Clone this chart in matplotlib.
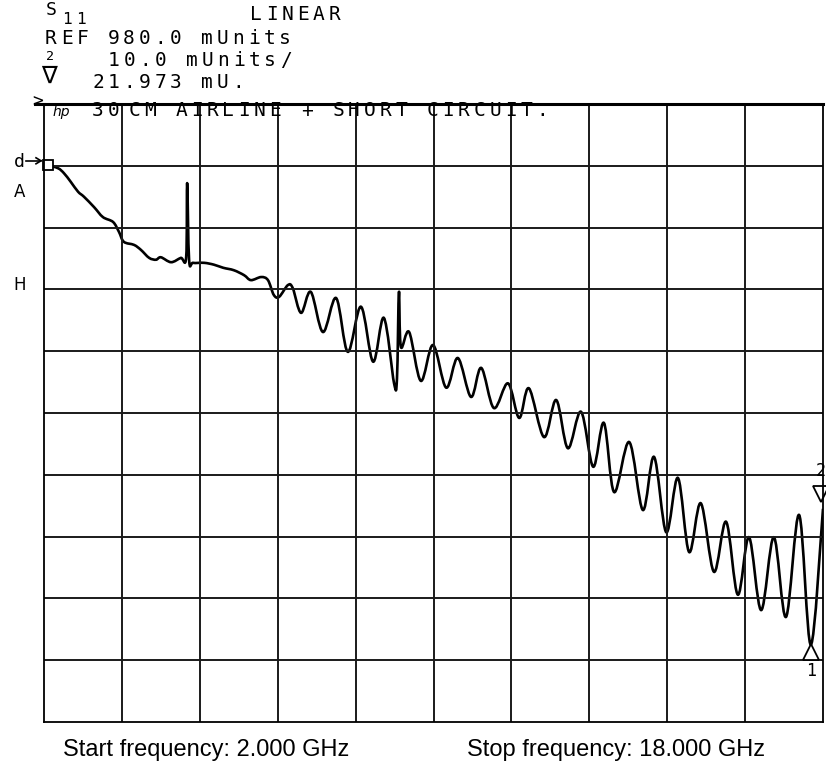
"""
Network analyzer plot: S11 of a 30 cm airline + short circuit, 2-18 GHz.
"""

import matplotlib
matplotlib.use("Agg")
import matplotlib.pyplot as plt
import matplotlib.transforms as mtransforms
from matplotlib.lines import Line2D
from matplotlib.path import Path
from matplotlib.patches import PathPatch

# Trace (frequency in GHz, |S11| in mUnits)
freq = [2.08, 2.29, 2.41, 2.55, 2.70, 2.82, 3.03, 3.21, 3.42, 3.54,
        3.64, 3.85, 3.99, 4.16, 4.30, 4.40, 4.61, 4.81, 4.92, 4.94,
        4.98, 5.06, 5.29, 5.49, 5.68, 5.90, 6.11, 6.25, 6.46, 6.60,
        6.72, 6.83, 7.01, 7.11, 7.28, 7.48, 7.73, 8.00, 8.24, 8.51,
        8.76, 8.98, 9.19, 9.25, 9.29, 9.33, 9.50, 9.74, 9.99, 10.26,
        10.50, 10.77, 10.98, 11.24, 11.53, 11.76, 11.96, 12.27, 12.52, 12.76,
        13.03, 13.28, 13.50, 13.71, 14.02, 14.30, 14.53, 14.78, 15.02, 15.25,
        15.49, 15.76, 16.01, 16.25, 16.48, 16.73, 16.99, 17.24, 17.51, 17.75,
        18.00]
s11 = [980.1, 979.6, 978.8, 977.4, 975.8, 975.0, 973.3, 971.7, 970.9, 969.3,
       967.7, 967.2, 966.4, 965.1, 964.8, 965.2, 964.4, 965.1, 965.2, 977.2,
       964.8, 964.3, 964.3, 964.0, 963.5, 963.1, 962.3, 961.5, 962.0, 961.5,
       959.1, 958.8, 960.7, 960.2, 956.2, 959.6, 953.1, 958.6, 949.9, 957.2,
       948.3, 955.4, 944.8, 945.6, 959.6, 950.7, 953.1, 945.2, 951.0, 944.1,
       948.9, 942.6, 947.3, 940.8, 944.8, 939.2, 944.0, 936.1, 942.1, 934.3,
       940.2, 931.3, 938.4, 927.2, 935.3, 924.3, 932.9, 920.7, 929.5, 917.5,
       925.4, 914.3, 922.4, 910.6, 919.9, 908.1, 919.9, 907.0, 923.5, 902.5,
       924.5]

# Display settings
start_ghz, stop_ghz = 2.0, 18.0
ref_level = 980.0       # mUnits
scale_div = 10.0        # mUnits / division
n_div = 10
marker1 = (17.75, 902.5)
marker2 = (18.00, 924.5)

header_lines = ["REF 980.0 mUnits", "10.0 mUnits/", "21.973 mU."]
title_text = "CM AIRLINE + SHORT CIRCUIT."

W, H = 826, 778
fig = plt.figure(figsize=(W / 100, H / 100), dpi=100)
fig.patch.set_facecolor("white")

# axes box in pixel terms (left, top, right, bottom)
L, T, R, B = 44, 104, 823, 722
ax = fig.add_axes([L / W, 1 - B / H, (R - L) / W, (B - T) / H])

top_val = ref_level + scale_div
bottom_val = top_val - n_div * scale_div
ax.set_xlim(start_ghz, stop_ghz)
ax.set_ylim(bottom_val, top_val)

step_x = (stop_ghz - start_ghz) / n_div
for i in range(1, n_div):
    ax.axvline(start_ghz + i * step_x, color="#1a1a1a", lw=1.4)
    ax.axhline(bottom_val + i * scale_div, color="#1a1a1a", lw=1.4)

ax.set_xticks([])
ax.set_yticks([])
for side in ["left", "right", "bottom"]:
    ax.spines[side].set_linewidth(1.3)
ax.spines["top"].set_linewidth(2.2)

# trace, drawn as a smooth curve through the read points (Catmull-Rom)
verts = [(freq[0], s11[0])]
codes = [Path.MOVETO]
n = len(freq)
for i in range(n - 1):
    x0, y0 = freq[max(i - 1, 0)], s11[max(i - 1, 0)]
    x1, y1 = freq[i], s11[i]
    x2, y2 = freq[i + 1], s11[i + 1]
    x3, y3 = freq[min(i + 2, n - 1)], s11[min(i + 2, n - 1)]
    verts += [(x1 + (x2 - x0) / 6, y1 + (y2 - y0) / 6),
              (x2 - (x3 - x1) / 6, y2 - (y3 - y1) / 6),
              (x2, y2)]
    codes += [Path.CURVE4] * 3
ax.add_patch(PathPatch(Path(verts, codes), facecolor="none", edgecolor="black",
                       lw=1.9, joinstyle="round"))
ax.plot(freq[0], s11[0], marker="s", ms=7, mfc="white", mec="black", mew=1.3,
        clip_on=False)

# markers
trans_up = mtransforms.offset_copy(ax.transData, fig=fig, x=0, y=-7, units="dots")
ax.plot(*marker1, marker="^", ms=12, mfc="white", mec="black", mew=1.3,
        transform=trans_up, clip_on=False)
ax.annotate("1", marker1, xytext=(0, -26), textcoords="offset pixels",
            ha="center", va="center", fontsize=12, family="DejaVu Sans Mono")
trans_dn = mtransforms.offset_copy(ax.transData, fig=fig, x=-2, y=15, units="dots")
ax.plot(*marker2, marker="v", ms=12, mfc="white", mec="black", mew=1.3,
        transform=trans_dn, clip_on=False)
ax.annotate("2", marker2, xytext=(-2, 38), textcoords="offset pixels",
            ha="center", va="center", fontsize=12, family="DejaVu Sans Mono")


def mono(x, y, s, size=14, pitch=15.6, **kw):
    """Fixed-pitch plotter style text; x, y are pixel centre of first char."""
    for i, ch in enumerate(s):
        if ch != " ":
            fig.text((x + i * pitch) / W, 1 - y / H, ch, fontsize=size,
                     family="DejaVu Sans Mono", ha="center", va="center", **kw)


mono(51, 10, "S", size=13)
mono(67, 19, "11", size=11.5, pitch=14)
mono(256, 15, "LINEAR")
mono(51, 39, header_lines[0])
mono(50, 56, "2", size=9.5)
mono(114, 61, header_lines[1])
fig.text(49 / W, 1 - 76 / H, "\u2207", fontsize=17, family="DejaVu Sans",
         ha="center", va="center")
mono(98, 82, header_lines[2])
mono(38, 101, ">", size=13)
fig.text(61 / W, 1 - 112 / H, "hp", fontsize=10, style="italic",
         family="DejaVu Sans", ha="center", va="center")
mono(98, 111, "30", pitch=16)
mono(134, 111, title_text, pitch=15.7)

# top border extends a bit to the left
fig.add_artist(Line2D([35 / W, L / W], [1 - T / H, 1 - T / H], color="black", lw=2.2))

# reference level indicator and side labels
ref_y = 1 - (T + (top_val - ref_level) / (top_val - bottom_val) * (B - T)) / H
fig.text(19 / W, ref_y + 4 / H, "d", fontsize=13, family="DejaVu Sans Mono",
         ha="center", va="center")
fig.add_artist(Line2D([26 / W, 40 / W], [ref_y + 5 / H, ref_y + 5 / H], color="black", lw=1.2))
fig.add_artist(Line2D([36 / W, 41 / W], [ref_y + 8 / H, ref_y + 5 / H], color="black", lw=1.2))
fig.add_artist(Line2D([36 / W, 41 / W], [ref_y + 2 / H, ref_y + 5 / H], color="black", lw=1.2))
fig.text(20 / W, 1 - 192 / H, "A", fontsize=12, family="DejaVu Sans",
         ha="center", va="center")
fig.text(20 / W, 1 - 285 / H, "H", fontsize=12, family="DejaVu Sans",
         ha="center", va="center")

# frequency captions
fig.text(63 / W, 1 - 750 / H, f"Start frequency: {start_ghz:.3f} GHz",
         fontsize=17, family="Liberation Sans", ha="left", va="center")
fig.text(467 / W, 1 - 750 / H, f"Stop frequency: {stop_ghz:.3f} GHz",
         fontsize=17, family="Liberation Sans", ha="left", va="center")

fig.savefig("out.png", dpi=100)
